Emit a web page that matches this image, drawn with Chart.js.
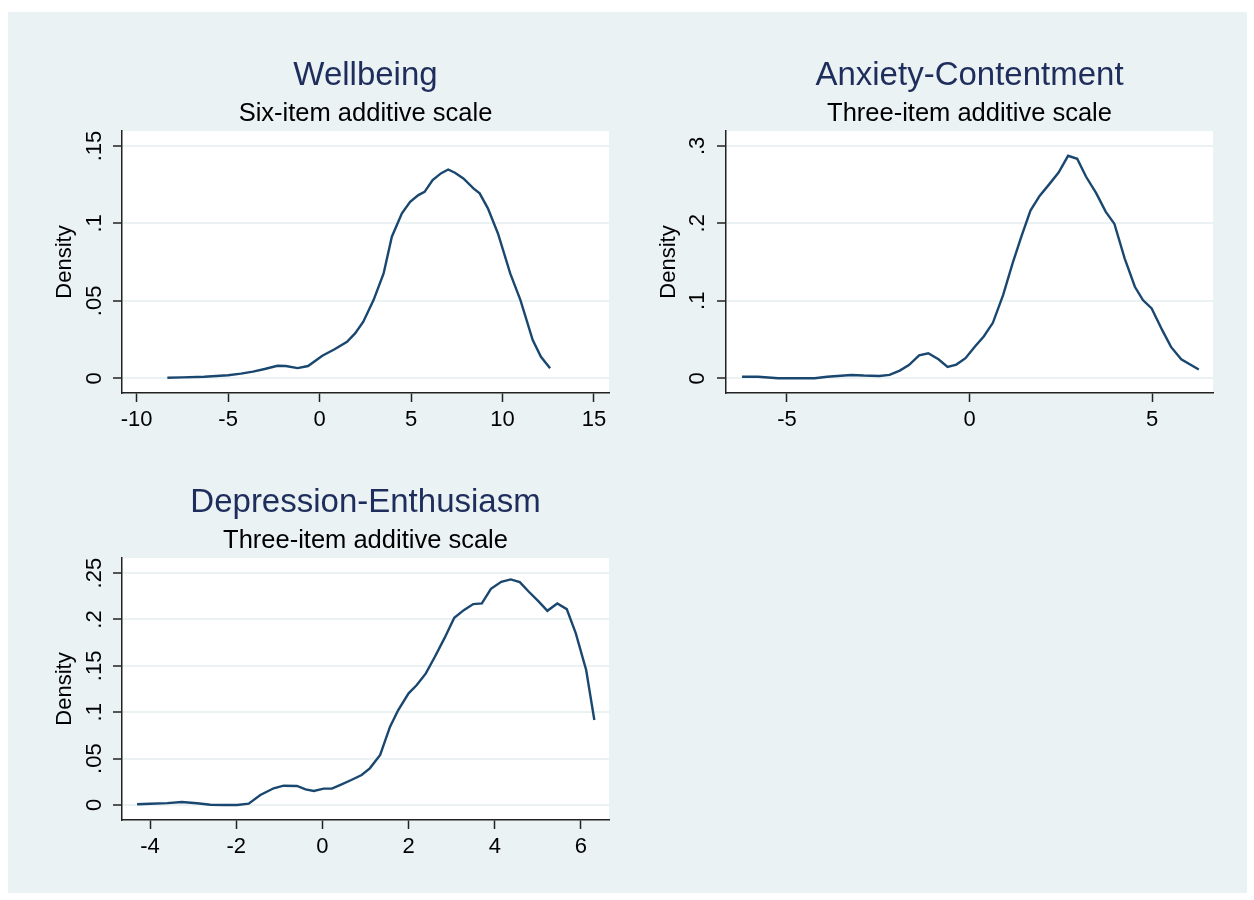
<!DOCTYPE html>
<html>
<head>
<meta charset="utf-8">
<script src="https://cdn.jsdelivr.net/npm/chart.js@4.4.1/dist/chart.umd.min.js"></script>
<style>
  html, body { margin: 0; padding: 0; background: #ffffff; overflow: hidden; width: 1254px; height: 900px; }
  #bg { position: absolute; left: 8px; top: 12px; width: 1239px; height: 881px; background: #eaf2f3; }
  canvas { position: absolute; }
</style>
</head>
<body>
<div id="bg"></div>
<canvas id="wellbeing"></canvas>
<canvas id="anxiety"></canvas>
<canvas id="depression"></canvas>
<script>
// Wellbeing (six-item additive scale)
var wellX = [-8.32, -7.5, -6.3, -5.0, -4.3, -3.64, -3.0, -2.3, -1.85, -1.2, -0.63, 0.15, 0.82, 1.5, 1.94,
    2.39, 2.95, 3.5, 3.95, 4.5, 4.95, 5.4, 5.74, 6.18, 6.63, 7.03, 7.4, 7.86, 8.41, 8.75, 9.2, 9.75,
    10.42, 10.98, 11.65, 12.1, 12.6];
var wellY = [0.0003, 0.0006, 0.001, 0.002, 0.003, 0.0043, 0.006, 0.0081, 0.0079, 0.0066, 0.0079, 0.0146,
    0.0187, 0.0236, 0.029, 0.0365, 0.0505, 0.0677, 0.0914, 0.1065, 0.114, 0.1183, 0.1204, 0.128, 0.1323,
    0.1348, 0.1327, 0.129, 0.1226, 0.1194, 0.1097, 0.0935, 0.0677, 0.0505, 0.0247, 0.0139, 0.0065];
var wellXTicks = [-10, -5, 0, 5, 10, 15];
var wellXLabels = ["-10", "-5", "0", "5", "10", "15"];
var wellYTicks = [0, 0.05, 0.1, 0.15];
var wellYLabels = ["0", ".05", ".1", ".15"];

// Anxiety-Contentment (three-item additive scale)
var anxX = [-6.23, -5.79, -5.24, -4.24, -3.9, -3.24, -2.9, -2.47, -2.19, -1.91, -1.66, -1.38, -1.13, -0.85,
    -0.6, -0.36, -0.11, 0.15, 0.39, 0.64, 0.92, 1.18, 1.42, 1.67, 1.92, 2.17, 2.44, 2.7, 2.95, 3.19, 3.47,
    3.73, 3.97, 4.25, 4.53, 4.75, 4.99, 5.28, 5.52, 5.8, 6.28];
var anxY = [0.002, 0.002, 0.0, 0.0, 0.002, 0.0043, 0.0035, 0.003, 0.0043, 0.0099, 0.017, 0.0297, 0.0323,
    0.0246, 0.0147, 0.0177, 0.0259, 0.041, 0.054, 0.0716, 0.1074, 0.1483, 0.1828, 0.2164, 0.2354, 0.2496,
    0.2656, 0.2871, 0.2832, 0.2604, 0.2389, 0.2151, 0.1992, 0.1548, 0.1181, 0.1009, 0.0901, 0.0621, 0.0405,
    0.0246, 0.0113];
var anxXTicks = [-5, 0, 5];
var anxXLabels = ["-5", "0", "5"];
var anxYTicks = [0, 0.1, 0.2, 0.3];
var anxYLabels = ["0", ".1", ".2", ".3"];

// Depression-Enthusiasm (three-item additive scale)
var depX = [-4.3, -3.99, -3.6, -3.26, -2.91, -2.6, -2.29, -1.98, -1.71, -1.44, -1.13, -0.9, -0.59, -0.39,
    -0.2, 0.03, 0.22, 0.42, 0.67, 0.91, 1.1, 1.34, 1.57, 1.76, 2.0, 2.19, 2.4, 2.61, 2.83, 3.06, 3.28, 3.5,
    3.7, 3.91, 4.15, 4.37, 4.58, 4.79, 5.01, 5.22, 5.45, 5.67, 5.88, 6.12, 6.31];
var depY = [0.0008, 0.0014, 0.002, 0.0032, 0.0018, 0.0003, 0.0, 0.0, 0.0014, 0.0108, 0.018, 0.0208, 0.0205,
    0.0169, 0.0151, 0.0176, 0.0176, 0.0216, 0.0269, 0.0323, 0.0395, 0.0539, 0.0844, 0.1024, 0.1204, 0.1293,
    0.1419, 0.1598, 0.1796, 0.2018, 0.2101, 0.2166, 0.2173, 0.2331, 0.2406, 0.2432, 0.2403, 0.2299, 0.2198,
    0.2094, 0.2173, 0.2112, 0.185, 0.1455, 0.0916];
var depXTicks = [-4, -2, 0, 2, 4, 6];
var depXLabels = ["-4", "-2", "0", "2", "4", "6"];
var depYTicks = [0, 0.05, 0.1, 0.15, 0.2, 0.25];
var depYLabels = ["0", ".05", ".1", ".15", ".2", ".25"];

const FONT = "'Liberation Sans', Arial, Helvetica, sans-serif";
const SIDE = 110;    // width of the axis strip left of the plot (mirrored on the right)
const TOP = 120;     // space for title + subtitle
const BOTTOM = 60;   // x axis strip
const PLOT_W = 487;
const PLOT_H = 262;

// white plot region like Stata's s2color
var whitePlot = {
    id: 'whitePlot',
    beforeDraw: function(chart) {
        var a = chart.chartArea;
        var c = chart.ctx;
        c.save();
        c.fillStyle = '#ffffff';
        c.fillRect(a.left, a.top, a.right - a.left, a.bottom - a.top);
        c.restore();
    }
};

function drawPanel(id, plotLeft, plotTop, cfg) {
    var canvas = document.getElementById(id);
    canvas.width = SIDE * 2 + PLOT_W;
    canvas.height = TOP + PLOT_H + BOTTOM;
    canvas.style.left = (plotLeft - SIDE) + 'px';
    canvas.style.top = (plotTop - TOP) + 'px';

    var points = [];
    for (var i = 0; i < cfg.xs.length; i++) {
        points.push({ x: cfg.xs[i], y: cfg.ys[i] });
    }

    new Chart(canvas.getContext('2d'), {
        type: 'line',
        data: {
            datasets: [{
                data: points,
                borderColor: '#1a476f',
                borderWidth: 2.4,
                pointRadius: 0,
                tension: 0,
                fill: false
            }]
        },
        options: {
            responsive: false,
            animation: false,
            events: [],
            layout: { padding: 0 },
            plugins: {
                legend: { display: false },
                tooltip: { enabled: false },
                title: {
                    display: true,
                    text: cfg.title,
                    color: '#1e2d5c',
                    font: { family: FONT, size: 33, weight: 'normal' },
                    padding: { top: 45, bottom: 0 }
                },
                subtitle: {
                    display: true,
                    text: cfg.subtitle,
                    color: '#000000',
                    font: { family: FONT, size: 25.5, weight: 'normal' },
                    padding: { top: 3.5, bottom: 1.4 }
                }
            },
            scales: {
                x: {
                    type: 'linear',
                    min: cfg.xMin,
                    max: cfg.xMax,
                    afterBuildTicks: function(s) { s.ticks = cfg.xTicks.map(function(v) { return { value: v }; }); },
                    afterFit: function(s) { s.height = BOTTOM; },
                    grid: { drawOnChartArea: false, drawTicks: true, tickLength: 9, tickColor: '#222222', tickWidth: 1.5 },
                    border: { display: true, color: '#222222', width: 1.5 },
                    ticks: {
                        autoSkip: false,
                        maxRotation: 0,
                        padding: 4.6,
                        color: '#000000',
                        font: { family: FONT, size: 22 },
                        callback: function(v, i) { return cfg.xLabels[i]; }
                    }
                },
                y: {
                    type: 'linear',
                    min: cfg.yMin,
                    max: cfg.yMax,
                    afterBuildTicks: function(s) { s.ticks = cfg.yTicks.map(function(v) { return { value: v }; }); },
                    afterFit: function(s) { s.width = SIDE; },
                    grid: { color: '#eaf2f3', lineWidth: 2, drawTicks: true, tickLength: 9, tickColor: '#222222', tickWidth: 1.5 },
                    border: { display: true, color: '#222222', width: 1.5 },
                    ticks: {
                        autoSkip: false,
                        minRotation: 90,
                        maxRotation: 90,
                        crossAlign: 'center',
                        padding: cfg.yPad,
                        color: '#000000',
                        font: { family: FONT, size: 22 },
                        callback: function(v, i) { return cfg.yLabels[i]; }
                    },
                    title: {
                        display: true,
                        text: 'Density',
                        color: '#000000',
                        font: { family: FONT, size: 22 },
                        padding: { top: 40, bottom: 0 }
                    }
                },
                // empty strip on the right so the titles centre over the plot
                yR: {
                    type: 'linear',
                    position: 'right',
                    display: true,
                    grid: { display: false },
                    border: { display: false },
                    ticks: { display: false },
                    afterFit: function(s) { s.width = SIDE; }
                }
            }
        },
        plugins: [whitePlot]
    });
}

drawPanel('wellbeing', 122, 131, {
    title: 'Wellbeing', subtitle: 'Six-item additive scale',
    xs: wellX, ys: wellY,
    xMin: -10.80, xMax: 15.82, yMin: -0.0095, yMax: 0.1596,
    xTicks: wellXTicks, xLabels: wellXLabels, yTicks: wellYTicks, yLabels: wellYLabels,
    yPad: 2.4
});

drawPanel('anxiety', 726, 131, {
    title: 'Anxiety-Contentment', subtitle: 'Three-item additive scale',
    xs: anxX, ys: anxY,
    xMin: -6.67, xMax: 6.67, yMin: -0.019, yMax: 0.319,
    xTicks: anxXTicks, xLabels: anxXLabels, yTicks: anxYTicks, yLabels: anxYLabels,
    yPad: 9.8
});

drawPanel('depression', 122, 558, {
    title: 'Depression-Enthusiasm', subtitle: 'Three-item additive scale',
    xs: depX, ys: depY,
    xMin: -4.65, xMax: 6.65, yMin: -0.0162, yMax: 0.2662,
    xTicks: depXTicks, xLabels: depXLabels, yTicks: depYTicks, yLabels: depYLabels,
    yPad: 2.7
});
</script>
</body>
</html>
